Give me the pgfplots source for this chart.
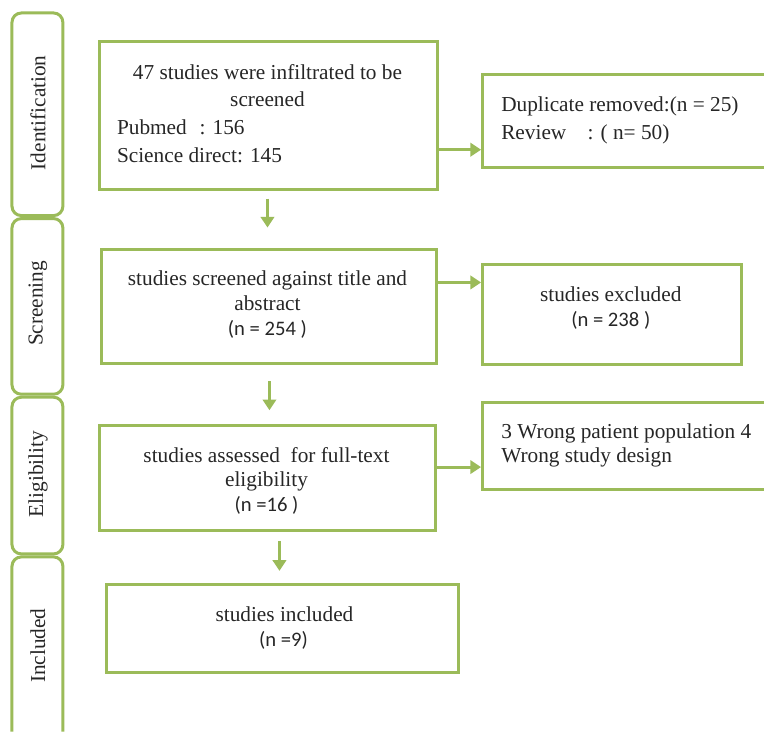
\documentclass[border=0pt]{standalone}
\usepackage{pgfplots}
\pgfplotsset{compat=1.18}
\usetikzlibrary{arrows.meta}
\usepackage{fontspec}
\setmainfont{Liberation Serif}
\newfontfamily\calib{Carlito}
\definecolor{prgreen}{HTML}{9BBB59}
\definecolor{txt}{HTML}{262626}

\begin{document}
\begin{tikzpicture}[
    box/.style={draw=prgreen, line width=2.25pt},
    panel/.style={draw=prgreen, line width=2.25pt, rounded corners=7pt},
    arr/.style={draw=prgreen, line width=2.25pt, -{Triangle[length=8pt,width=10pt]}},
    t/.style={font=\fontsize{16}{20}\selectfont, text=txt, inner sep=0pt},
    s/.style={font=\calib\fontsize{15.5}{20}\selectfont, text=txt, inner sep=0pt},
  ]
\begin{axis}[
    scale only axis,
    width=573.75pt, height=549.75pt,
    xmin=0, xmax=765, ymin=0, ymax=733,
    y dir=reverse,
    hide axis,
    clip=false,
  ]
  % keep the whole page area
  \path (0,0) rectangle (765,733);

  % stage panels on the left
  \draw[panel] (12,13) rectangle (63,216);
  \draw[panel] (12,219) rectangle (63,395);
  \draw[panel] (12,398) rectangle (63,555);
  \draw[panel] (12,733) -- (12,558) -- (63,558) -- (63,733);
  \node[t, rotate=90] at (38,113) {Identification};
  \node[t, rotate=90] at (38,304) {Screening};
  \node[t, rotate=90] at (38,475) {Eligibility};
  \node[t, rotate=90] at (38,647) {Included};

  % main column
  \draw[box] (100,42) rectangle (438,190);
  \node[t, anchor=base] at (268,80) {47 studies were infiltrated to be};
  \node[t, anchor=base] at (268,107) {screened};
  \node[t, anchor=base west] at (117,135) {Pubmed\hspace{0.6em}: 156};
  \node[t, anchor=base west] at (117,163) {Science direct: 145};

  \draw[box] (102,250) rectangle (437,364);
  \node[t, anchor=base] at (268,286) {studies screened against title and};
  \node[t, anchor=base] at (268,311) {abstract};
  \node[s, anchor=base] at (268,336) {(n = 254 )};

  \draw[box] (100,426) rectangle (436,532);
  \node[t, anchor=base] at (267,463) {studies assessed\ \ for full-text};
  \node[t, anchor=base] at (267,487) {eligibility};
  \node[s, anchor=base] at (267,512) {(n =16 )};

  \draw[box] (107,586) rectangle (459,674);
  \node[t, anchor=base] at (285,623) {studies included};
  \node[s, anchor=base] at (284,648) {(n =9)};

  % right column
  \draw[box] (765,75) -- (483,75) -- (483,168) -- (765,168);
  \node[t, anchor=base west] at (502,112) {Duplicate removed:(n = 25)};
  \node[t, anchor=base west] at (502,140) {Review\hspace{1em}: ( n= 50)};

  \draw[box] (483,265) rectangle (743,365);
  \node[t, anchor=base] at (612,302) {studies excluded};
  \node[s, anchor=base] at (612,327) {(n = 238 )};

  \draw[box] (765,403) -- (483,403) -- (483,490) -- (765,490);
  \node[t, anchor=base west] at (502,439) {3 Wrong patient population 4};
  \node[t, anchor=base west] at (502,463) {Wrong study design};

  % arrows
  \draw[arr] (438,150) -- (482,150);
  \draw[arr] (437,283) -- (482,283);
  \draw[arr] (436,468) -- (482,468);
  \draw[arr] (268,199) -- (268,228);
  \draw[arr] (270,382) -- (270,411);
  \draw[arr] (280,542) -- (280,572);
\end{axis}
\end{tikzpicture}
\end{document}
